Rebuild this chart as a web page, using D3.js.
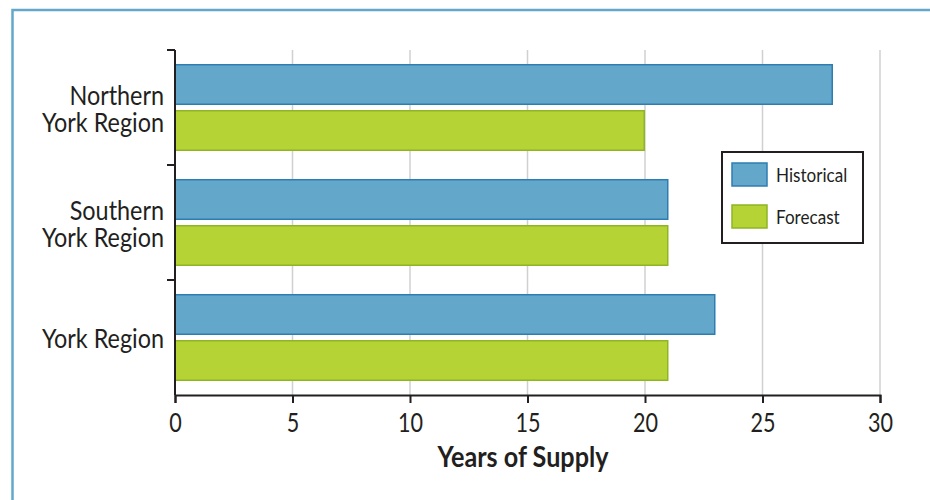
<!DOCTYPE html>
<html>
<head>
<meta charset="utf-8">
<script src="https://cdn.jsdelivr.net/npm/d3@7"></script>
<style>
  html, body { margin: 0; padding: 0; background: #fff; }
  svg { display: block; }
  text { font-family: Lato, "Open Sans", sans-serif; fill: #231f20; }
</style>
</head>
<body>
<svg id="chart" width="930" height="500"></svg>
<script>
// Regions and their years of supply
const regions = [["Northern", "York Region"], ["Southern", "York Region"], ["York Region"]];
const regionKeys = ["Northern York Region", "Southern York Region", "York Region"];
const seriesNames = ["Historical", "Forecast"];
const historical = [28, 21, 23];
const forecast = [20, 21, 21];
const xTicks = [0, 5, 10, 15, 20, 25, 30];
const xTitle = "Years of Supply";

const fills = { Historical: "#63a8cb", Forecast: "#b5d334" };
const strokes = { Historical: "#2e7db1", Forecast: "#8fb524" };

// narrow the humanist face horizontally to get a condensed look
const condense = "scale(0.9,1)";

const svg = d3.select("#chart");

// frame
svg.append("rect")
  .attr("x", 12.5).attr("y", 10)
  .attr("width", 1000).attr("height", 1000)
  .attr("fill", "none")
  .attr("stroke", "#63a8cb")
  .attr("stroke-width", 2.5);

const x = d3.scaleLinear().domain([0, 30]).range([175, 880]);
const y = d3.scaleBand().domain(regionKeys).range([50, 395]).padding(0);
const yInner = d3.scaleBand().domain(seriesNames)
  .range([0, y.bandwidth()])
  .paddingInner(0.1087).paddingOuter(0.304);

// vertical grid
svg.append("g")
  .selectAll("line")
  .data(xTicks.filter(d => d > 0))
  .join("line")
  .attr("x1", d => x(d)).attr("x2", d => x(d))
  .attr("y1", 50).attr("y2", 395)
  .attr("stroke", "#d0d0d0")
  .attr("stroke-width", 1.5);

// bars
const rows = regionKeys.map((k, i) => ({ key: k, Historical: historical[i], Forecast: forecast[i] }));
const groups = svg.append("g")
  .selectAll("g")
  .data(rows)
  .join("g")
  .attr("transform", d => `translate(0,${y(d.key)})`);

groups.selectAll("rect")
  .data(d => seriesNames.map(s => ({ s, v: d[s] })))
  .join("rect")
  .attr("x", x(0))
  .attr("y", d => yInner(d.s) + 0.75)
  .attr("width", d => x(d.v) - x(0) - 0.75)
  .attr("height", yInner.bandwidth() - 1.5)
  .attr("fill", d => fills[d.s])
  .attr("stroke", d => strokes[d.s])
  .attr("stroke-width", 1.5);

// x axis
const xAxis = d3.axisBottom(x)
  .tickValues(xTicks)
  .tickSize(8)
  .tickSizeOuter(8)
  .tickPadding(10)
  .tickFormat(d3.format("d"));

const gx = svg.append("g")
  .attr("transform", "translate(0,395)")
  .call(xAxis);
gx.select(".domain").attr("stroke", "#231f20").attr("stroke-width", 2);
gx.selectAll(".tick line").attr("stroke", "#231f20").attr("stroke-width", 2);
gx.selectAll(".tick text")
  .attr("font-size", 27)
  .attr("font-family", "Lato, 'Open Sans', sans-serif")
  .attr("fill", "#231f20")
  .attr("transform", "scale(0.8,1)");

// y axis line and category separators
const gy = svg.append("g");
gy.append("line")
  .attr("x1", x(0)).attr("x2", x(0))
  .attr("y1", y.range()[0]).attr("y2", y.range()[1])
  .attr("stroke", "#231f20").attr("stroke-width", 2);
gy.selectAll("line.sep")
  .data(regionKeys)
  .join("line")
  .attr("class", "sep")
  .attr("x1", x(0) - 8).attr("x2", x(0))
  .attr("y1", d => y(d)).attr("y2", d => y(d))
  .attr("stroke", "#231f20").attr("stroke-width", 2);

// category labels, right-aligned beside the axis
const lineH = 27;
gy.selectAll("g.cat")
  .data(regions)
  .join("g")
  .attr("class", "cat")
  .attr("transform", (d, i) => `translate(164,${y(regionKeys[i]) + y.bandwidth() / 2})`)
  .append("text")
  .attr("text-anchor", "end")
  .attr("font-size", 26)
  .attr("transform", condense)
  .each(function (lines) {
    const t = d3.select(this);
    const n = lines.length;
    lines.forEach((ln, j) => {
      t.append("tspan")
        .attr("x", 0)
        .attr("y", (j - (n - 1) / 2) * lineH + 10.5)
        .text(ln);
    });
  });

// axis title
svg.append("g")
  .attr("transform", "translate(523,467)")
  .append("text")
  .attr("text-anchor", "middle")
  .attr("font-size", 28)
  .attr("font-weight", "bold")
  .attr("transform", condense)
  .text(xTitle);

// legend
const legend = svg.append("g").attr("transform", "translate(722,152)");
legend.append("rect")
  .attr("width", 141).attr("height", 91)
  .attr("fill", "#fff")
  .attr("stroke", "#231f20").attr("stroke-width", 2);
const items = legend.selectAll("g.item")
  .data(seriesNames)
  .join("g")
  .attr("class", "item")
  .attr("transform", (d, i) => `translate(10,${11 + i * 42})`);
items.append("rect")
  .attr("width", 35).attr("height", 23)
  .attr("fill", d => fills[d])
  .attr("stroke", d => strokes[d])
  .attr("stroke-width", 1.5);
items.append("g")
  .attr("transform", "translate(44,18.5)")
  .append("text")
  .attr("font-size", 19)
  .attr("transform", condense)
  .text(d => d);
</script>
</body>
</html>
